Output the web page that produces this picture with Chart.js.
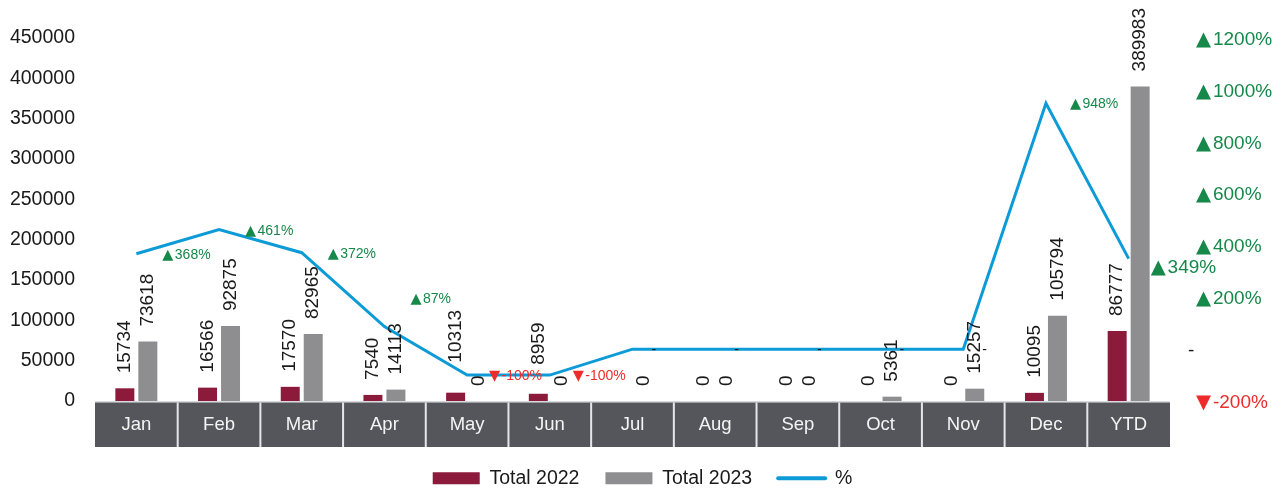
<!DOCTYPE html>
<html><head><meta charset="utf-8">
<script src="https://cdn.jsdelivr.net/npm/chart.js@4/dist/chart.umd.min.js"></script>
<style>html,body{margin:0;padding:0;background:#fff;overflow:hidden}</style>
</head><body>
<canvas id="c" width="1285" height="489"></canvas>
<script>
const categories = ['Jan','Feb','Mar','Apr','May','Jun','Jul','Aug','Sep','Oct','Nov','Dec','YTD'];
const total2022 = [15734,16566,17570,7540,10313,8959,null,0,0,0,0,10095,86777];
const total2023 = [73618,92875,82965,14113,0,0,0,0,0,5361,15257,105794,389983];
const pctChange = [368,461,372,87,-100,-100,0,0,0,0,0,948,349];
const leftTickValues = [0,50000,100000,150000,200000,250000,300000,350000,400000,450000];
const rightTickValues = [-200,0,200,400,600,800,1000,1200];

const FONT = "'Liberation Sans', 'DejaVu Sans', sans-serif";
const TRI_FONT = "'DejaVu Sans', sans-serif";
const GREEN = '#16884a', RED = '#ee2b2b', BLACK = '#1a1a1a';
const pctColor = v => v > 0 ? GREEN : (v < 0 ? RED : BLACK);

// draws "▲368%" style text: triangle in DejaVu, number in Liberation; (x,y) = left, vertical middle
function drawPct(ctx, v, x, y, size) {
  ctx.save();
  ctx.fillStyle = pctColor(v);
  ctx.textAlign = 'left';
  ctx.textBaseline = 'alphabetic';
  const base = y + size * 0.716 / 2;
  if (v === 0) {
    ctx.font = size + 'px ' + FONT;
    ctx.fillStyle = BLACK;
    ctx.fillText('-', x, base);
    ctx.restore();
    return;
  }
  ctx.font = (size * 1.03) + 'px ' + TRI_FONT;
  const tri = v > 0 ? '\u25B2' : '\u25BC';
  ctx.fillText(tri, x, base);
  const tw = ctx.measureText(tri).width;
  ctx.font = size + 'px ' + FONT;
  ctx.fillText(v + '%', x + tw + size * 0.1, base);
  ctx.restore();
}

const bandPlugin = {
  id: 'band',
  beforeDraw(chart) {
    const x = chart.scales.x, ctx = chart.ctx, ca = chart.chartArea;
    const n = categories.length, w = (x.right - x.left) / n;
    ctx.save();
    ctx.fillStyle = '#d6d9de';
    ctx.fillRect(x.left, ca.bottom, x.right - x.left, 1.5);
    ctx.fillStyle = '#55565b';
    ctx.fillRect(x.left, ca.bottom + 1.5, x.right - x.left, 44.5);
    ctx.fillStyle = '#e4e6ea';
    for (let i = 1; i < n; i++) {
      const px = x.getPixelForTick(i) - w / 2;
      ctx.fillRect(px - 1, ca.bottom + 1.5, 2, 44.5);
    }
    ctx.restore();
  },
  afterDraw(chart) {
    const s = chart.scales.y1, ctx = chart.ctx, ca = chart.chartArea;
    rightTickValues.forEach(v => {
      const py = s.getPixelForValue(v);
      drawPct(ctx, v, ca.right + (v === 0 ? 18 : 26), py, 19);
    });
  }
};

const labelPlugin = {
  id: 'labels',
  afterDatasetsDraw(chart, args, opts) {
    const ctx = chart.ctx;
    ctx.save();
    [0, 1].forEach(di => {
      const meta = chart.getDatasetMeta(di);
      const data = chart.data.datasets[di].data;
      const gaps = opts.barGapAdjust[di] || {};
      meta.data.forEach((el, i) => {
        if (data[i] === null || data[i] === undefined) return;
        ctx.save();
        ctx.translate(el.x, el.y - (gaps[i] !== undefined ? gaps[i] : opts.barGap));
        ctx.rotate(-Math.PI / 2);
        ctx.font = opts.barFont + 'px ' + FONT;
        ctx.fillStyle = BLACK;
        ctx.textAlign = 'left';
        ctx.textBaseline = 'middle';
        ctx.fillText(String(data[i]), 0, 0);
        ctx.restore();
      });
    });
    const meta = chart.getDatasetMeta(2);
    const data = chart.data.datasets[2].data;
    meta.data.forEach((el, i) => {
      const adj = opts.adjust[i] || {};
      drawPct(ctx, data[i], el.x + (adj.dx !== undefined ? adj.dx : opts.dx), el.y + (adj.dy || 0), adj.size || opts.lineFont);
    });
    ctx.restore();
  }
};

new Chart(document.getElementById('c'), {
  data: {
    labels: categories,
    datasets: [
      { type: 'bar', label: 'Total 2022', data: total2022, backgroundColor: '#8c1a3b', yAxisID: 'y',
        categoryPercentage: 0.556, barPercentage: 0.826, order: 1 },
      { type: 'bar', label: 'Total 2023', data: total2023, backgroundColor: '#8e8e90', yAxisID: 'y',
        categoryPercentage: 0.556, barPercentage: 0.826, order: 1 },
      { type: 'line', label: '%', data: pctChange, borderColor: '#0d9bd7', backgroundColor: '#0d9bd7',
        borderWidth: 3, pointRadius: 0, tension: 0, yAxisID: 'y1', order: 0 }
    ]
  },
  options: {
    responsive: false,
    animation: false,
    devicePixelRatio: 1,
    layout: { padding: { top: 38, bottom: -9, left: 0, right: 0 } },
    plugins: {
      tooltip: { enabled: false },
      legend: {
        position: 'bottom',
        labels: {
          usePointStyle: true,
          pointStyleWidth: 47,
          boxHeight: 12,
          padding: 26,
          color: BLACK,
          font: { family: FONT, size: 19.5 },
          sort: (a, b) => a.datasetIndex - b.datasetIndex,
          generateLabels(chart) {
            const items = Chart.defaults.plugins.legend.labels.generateLabels(chart);
            items.forEach(it => {
              if (it.datasetIndex === 2) {
                it.pointStyle = 'line'; it.lineWidth = 4; it.lineCap = 'round';
                it.strokeStyle = '#0d9bd7';
              } else {
                it.pointStyle = 'rect'; it.lineWidth = 0;
              }
            });
            return items;
          }
        }
      },
      labels: { barGap: 15, barFont: 19, lineFont: 14, dx: 26,
        barGapAdjust: { 0: { 4: 30, 5: 29 } },
        adjust: { 3: { dy: -29 }, 4: { dx: 22 }, 5: { dx: 23 }, 6: { dx: 19 }, 7: { dx: 19 }, 8: { dx: 19 }, 9: { dx: 19 }, 10: { dx: 19 }, 11: { dx: 24 }, 12: { dx: 22, dy: 8, size: 19 } } }
    },
    scales: {
      x: {
        offset: true,
        grid: { display: false, drawTicks: false },
        border: { display: false },
        ticks: { color: '#f4f4f4', padding: 13.2, font: { family: FONT, size: 18.5 } },
        afterFit(s) { s.height = 41.5; }
      },
      y: {
        position: 'left',
        min: 0, max: 450000,
        grid: { display: false, drawTicks: false },
        border: { display: false },
        ticks: { color: BLACK, padding: 20, font: { family: FONT, size: 19.5 }, callback: v => String(v) },
        afterBuildTicks(s) { s.ticks = leftTickValues.map(v => ({ value: v })); },
        afterFit(s) { s.width = 95; }
      },
      y1: {
        position: 'right',
        min: -200, max: 1200,
        grid: { display: false, drawTicks: false },
        border: { display: false },
        ticks: { display: false },
        afterBuildTicks(s) { s.ticks = rightTickValues.map(v => ({ value: v })); },
        afterFit(s) { s.width = 115; }
      }
    }
  },
  plugins: [bandPlugin, labelPlugin]
});
</script>
</body></html>
